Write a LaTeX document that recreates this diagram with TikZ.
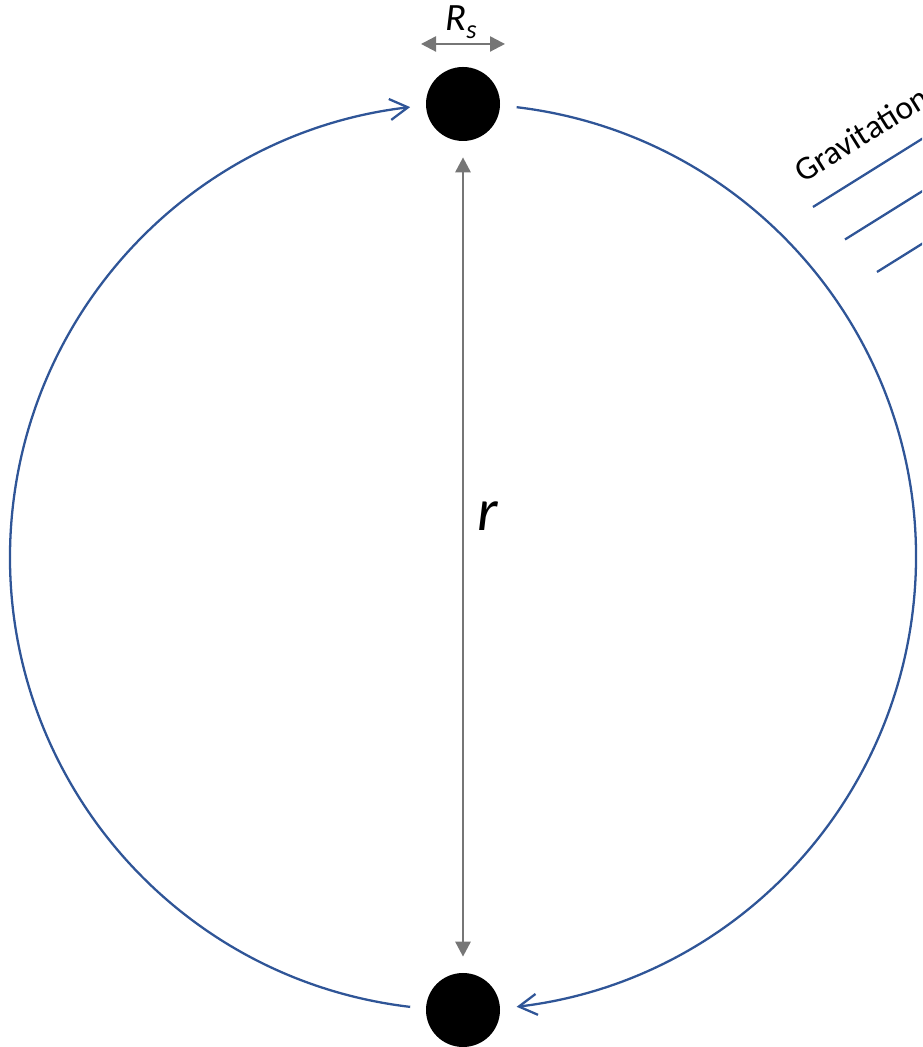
\documentclass[tikz,border=0pt]{standalone}
\usepackage{fontspec}
\setmainfont{Carlito}
\usetikzlibrary{arrows.meta,calc}
\definecolor{orbitblue}{RGB}{47,85,151}
\definecolor{dimgray}{RGB}{118,118,118}

\begin{document}
\begin{tikzpicture}[
    star/.style={circle, fill=black, minimum size=1.48cm, inner sep=0pt},
    orbit/.style={draw=orbitblue, line width=1.3pt, -{Straight Barb[length=0.36cm, width=0.42cm]}},
    dim/.style={draw=dimgray, line width=1.6pt, {Triangle[length=0.3cm, width=0.3cm]}-{Triangle[length=0.3cm, width=0.3cm]}},
    wave/.style={draw=orbitblue, line width=1.3pt}
  ]
    \useasboundingbox (0,0) rectangle (18.44,20.94);
    \clip (0,0) rectangle (18.44,20.94);
    \coordinate (c) at (9.26,9.80);
    \node (top) [star] at (9.26,18.86) {};
    \node (bottom) [star] at (9.26,0.74) {};

    % orbit
    \draw[orbit] ($(c)+(263.3:9.06)$) arc[start angle=263.3, end angle=96.7, radius=9.06];
    \draw[orbit] ($(c)+(83.2:9.06)$) arc[start angle=83.2, end angle=-83.2, radius=9.06];

    % separation and size
    \draw[dim, shorten <=0.32cm, shorten >=0.32cm] (top) -- (bottom);
    \node (r) at (9.76,10.62) {\fontsize{34}{40}\selectfont\itshape r};
    \coordinate (rsl) at (8.42,20.06);
    \coordinate (rsr) at (10.10,20.06);
    \draw[dim, line width=1.3pt] (rsl) -- (rsr);
    \node (rs) at (9.22,20.50) {\fontsize{22}{26}\selectfont\itshape R\raisebox{-0.22em}{\fontsize{15}{18}\selectfont s}};

    % waves
    \node (gw) [anchor=base west, rotate=32, inner sep=0pt] at (16.06,17.26) {\fontsize{19}{22}\selectfont Gravitation};
    \foreach \i in {0,1,2}
        \draw[wave] ($(16.26,16.80)+\i*(0.64,-0.65)$) -- ++(32:3);
\end{tikzpicture}
\end{document}
